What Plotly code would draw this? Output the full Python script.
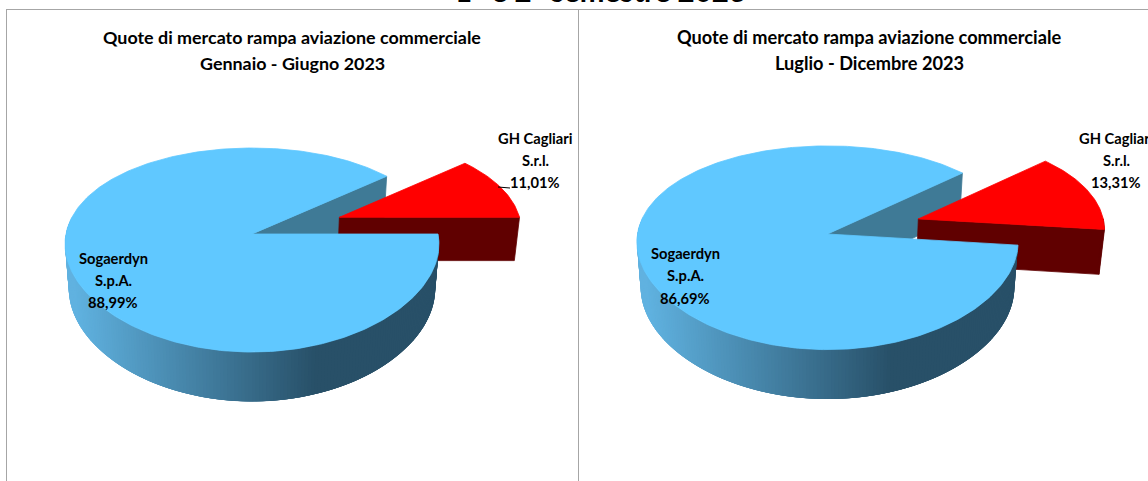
import numpy as np
import plotly.graph_objects as go

# ---- data ----
categories = ["Sogaerdyn<br>S.p.A.", "GH Cagliari<br>S.r.l."]
first_half = [88.99, 11.01]
second_half = [86.69, 13.31]
first_labels = ["88,99%", "11,01%"]
second_labels = ["86,69%", "13,31%"]
titles = ["Quote di mercato rampa aviazione commerciale<br>Gennaio - Giugno 2023",
          "Quote di mercato rampa aviazione commerciale<br>Luglio - Dicembre 2023"]
page_title = "1° e 2° semestre 2023"

# ---- styles ----
FONT = "Lato"
TOP_BLUE = "#60C8FF"
CUT_BLUE = "#3F7A96"
RED = "#FF0000"
DARK_RED = "#600000"
WALL_LIGHT = np.array([0x60, 0xB2, 0xE0])
WALL_DARK = np.array([0x28, 0x50, 0x68])
FRAME = "#A6A6A6"

# pie geometry: projected disc
PIES = [
    dict(cx=252, cy=234, rx=186, ry=99.5, k=0.157, kx=0.10, h=45, m=0.02, start=0.0,
         explode=0.508, red_r=0.985, dark_x=317),
    dict(cx=827.5, cy=234, rx=190, ry=100, k=0.135, kx=0.08, h=46, m=0.02, start=-6.3,
         explode=0.508, red_r=0.985, dark_x=893),
]


def project(p, theta, r, z, off=(0.0, 0.0)):
    t = np.radians(theta)
    u = r * np.cos(t) + off[0]
    v = -r * np.sin(t) + off[1]
    w = 1 - p["k"] * v + p["m"] * z
    wx = 1 - p["kx"] * v + p["m"] * z
    return p["cx"] + p["rx"] * u / wx, p["cy"] + (p["ry"] * v + p["h"] * z) / w


def poly(fig, xs, ys, color, edge=0.8):
    fig.add_trace(go.Scatter(x=list(xs), y=list(ys), mode="lines", fill="toself",
                             fillcolor=color, line=dict(color=color, width=edge),
                             hoverinfo="skip", showlegend=False))


def arc(p, a, b, z=0, off=(0.0, 0.0), r=1.0):
    th = np.linspace(a, b, max(int(abs(b - a)) + 2, 3))
    return project(p, th, r * np.ones_like(th), z * np.ones_like(th), off)


def draw_pie(fig, p, values):
    total = sum(values)
    span = 360 * values[1] / total
    a0, a1 = p["start"], p["start"] + span
    mid = np.radians((a0 + a1) / 2)
    off = (p["explode"] * np.cos(mid), -p["explode"] * np.sin(mid))
    zero = np.array([0.0])
    rr = p["red_r"]

    # cut face of the big slice, behind the red slice
    x0, y0 = project(p, zero, zero, zero)
    x1, y1 = project(p, zero, zero, zero + 1)
    ex0, ey0 = project(p, np.array([a1]), np.array([1.0]), zero)
    ex1, ey1 = project(p, np.array([a1]), np.array([1.0]), zero + 1)
    poly(fig, [x0[0], ex0[0], ex1[0], x1[0], x0[0]],
         [y0[0], ey0[0], ey1[0], y1[0], y0[0]], CUT_BLUE)

    # red slice: front faces then top
    ax0, ay0 = project(p, zero, zero, zero, off)
    ax1, ay1 = project(p, zero, zero, zero + 1, off)
    bx0, by0 = project(p, np.array([a0]), np.array([rr]), zero, off)
    bx1, by1 = project(p, np.array([a0]), np.array([rr]), zero + 1, off)
    poly(fig, [ax0[0], bx0[0], bx1[0], ax1[0], ax0[0]],
         [ay0[0], by0[0], by1[0], ay1[0], ay0[0]], DARK_RED)
    if a0 < 0:
        tx, ty = arc(p, a0, 0, 0, off, rr)
        dx, dy = arc(p, 0, a0, 1, off, rr)
        poly(fig, np.r_[tx, dx], np.r_[ty, dy], DARK_RED)
    ox, oy = arc(p, a0, a1, 0, off, rr)
    poly(fig, np.r_[ax0, ox, ax0], np.r_[ay0, oy, ay0], RED)

    # outer wall of the big slice with its horizontal shading; each strip runs
    # under the next one so that no seam shows
    left = p["cx"] - p["rx"] * 0.95
    end = 360 + a0
    edges = np.arange(170, end, 1.0).tolist() + [end]
    for a, b in zip(edges[:-1], edges[1:]):
        reach = min(b + 3, end)
        tx, ty = arc(p, a, reach, 0)
        dx, dy = arc(p, reach, a, 1)
        mx = project(p, np.array([(a + b) / 2]), np.array([1.0]), zero)[0][0]
        f = np.clip((mx - left) / (p["dark_x"] - left), 0, 1)
        c = WALL_LIGHT + (WALL_DARK - WALL_LIGHT) * f
        poly(fig, np.r_[tx, dx], np.r_[ty, dy], "rgb(%d,%d,%d)" % tuple(c), edge=0)

    # top of the big slice
    tx, ty = arc(p, a1, 360 + a0, 0)
    poly(fig, np.r_[x0, tx, x0], np.r_[y0, ty, y0], TOP_BLUE)


fig = go.Figure()
draw_pie(fig, PIES[0], first_half)
draw_pie(fig, PIES[1], second_half)


def text(x, y, s, size=14.7):
    fig.add_annotation(x=x, y=y, text="<b>%s</b>" % s, showarrow=False, xanchor="center",
                       yanchor="middle", font=dict(family=FONT, size=size, color="#000000"))


def lines(x, ys, s, size=14.7):
    for y, part in zip(ys, s.split("<br>")):
        text(x, y, part, size)


lines(292, [37, 63], titles[0], 17.9)
lines(869, [37, 63], titles[1], 18.2)
lines(113, [258, 280, 302], categories[0] + "<br>" + first_labels[0])
lines(535, [138, 160, 182], categories[1] + "<br>" + first_labels[1])
lines(685, [253, 275, 298], categories[0] + "<br>" + second_labels[0])
lines(1116, [138, 160, 182], categories[1] + "<br>" + second_labels[1])

# page heading, cut by the top edge as in the source
fig.add_annotation(xref="paper", yref="paper", x=600 / 1148, y=1, yshift=10,
                   text="<b>%s</b>" % page_title, showarrow=False, xanchor="center",
                   yanchor="middle", font=dict(family=FONT, size=29.5, color="#000000"))

frame = dict(type="line", line=dict(color=FRAME, width=1), layer="above")
fig.add_shape(x0=6, x1=1148, y0=9.5, y1=9.5, **frame)
fig.add_shape(x0=6.5, x1=6.5, y0=9, y1=481, **frame)
fig.add_shape(x0=578.5, x1=578.5, y0=9, y1=481, **frame)
fig.add_shape(type="line", x0=498, x1=510, y0=187, y1=188,
              line=dict(color="#000000", width=1), layer="above")

fig.update_layout(
    width=1148, height=481, margin=dict(l=0, r=0, t=0, b=0), autosize=False,
    paper_bgcolor="#FFFFFF", plot_bgcolor="#FFFFFF", showlegend=False,
    xaxis=dict(range=[0, 1148], visible=False, fixedrange=True),
    yaxis=dict(range=[481, 0], visible=False, fixedrange=True),
)
fig.write_html("out.html", post_script="document.body.style.margin='0';document.body.style.overflow='hidden';",
               config={"displayModeBar": False})
